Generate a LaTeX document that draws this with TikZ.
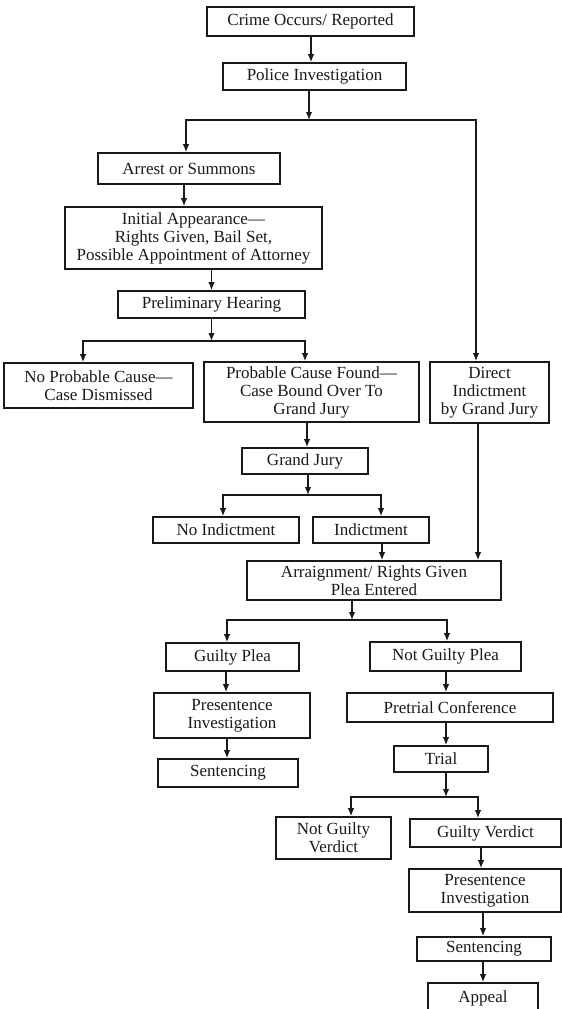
\documentclass[tikz,border=0pt]{standalone}
\usepackage{fontspec}
\setmainfont{Liberation Serif}
\usetikzlibrary{arrows.meta}
\begin{document}
\begin{tikzpicture}[x=1pt,y=-1pt,
  box/.style={draw=black!90, line width=1.6pt, align=center, inner sep=0pt,
    font=\fontsize{17}{18}\selectfont, text=black!90},
  arr/.style={draw=black!90, line width=1.4pt, -{Latex[length=8pt,width=6.5pt]}}]
\useasboundingbox (0,0) rectangle (562,1009);
\node[box, minimum width=207pt, minimum height=29pt] (crime) at (310.5,21.5) {Crime Occurs/ Reported};
\node[box, minimum width=183pt, minimum height=27pt] (police) at (314.5,76.5) {Police Investigation};
\node[box, minimum width=182pt, minimum height=31pt] (arrest) at (189,168.5) {Arrest or Summons};
\node[box, minimum width=257pt, minimum height=62pt] (initial) at (193.5,238) {Initial Appearance---\\Rights Given, Bail Set,\\Possible Appointment of Attorney};
\node[box, minimum width=187pt, minimum height=27pt] (prelim) at (211.5,304.5) {Preliminary Hearing};
\node[box, minimum width=189pt, minimum height=45pt] (noprob) at (98.5,385.5) {No Probable Cause---\\Case Dismissed};
\node[box, minimum width=215pt, minimum height=60pt] (prob) at (311.5,392) {Probable Cause Found---\\Case Bound Over To\\Grand Jury};
\node[box, minimum width=119pt, minimum height=61pt] (direct) at (489.5,392.5) {Direct\\Indictment\\by Grand Jury};
\node[box, minimum width=126pt, minimum height=26pt] (gj) at (305,461) {Grand Jury};
\node[box, minimum width=146pt, minimum height=26pt] (noind) at (226,530) {No Indictment};
\node[box, minimum width=116pt, minimum height=26pt] (ind) at (371,530) {Indictment};
\node[box, minimum width=254pt, minimum height=39pt] (arraign) at (374,580.5) {Arraignment/ Rights Given\\Plea Entered};
\node[box, minimum width=133pt, minimum height=28pt] (gp) at (232.5,657) {Guilty Plea};
\node[box, minimum width=151pt, minimum height=29pt] (ngp) at (445.5,656.5) {Not Guilty Plea};
\node[box, minimum width=156pt, minimum height=45pt] (psia) at (232,715.5) {Presentence\\Investigation};
\node[box, minimum width=140pt, minimum height=28pt] (senta) at (228,773) {Sentencing};
\node[box, minimum width=206pt, minimum height=29pt] (pretrial) at (450,707.5) {Pretrial Conference};
\node[box, minimum width=94pt, minimum height=26pt] (trial) at (441,759) {Trial};
\node[box, minimum width=115pt, minimum height=42pt] (ngv) at (333.5,838) {Not Guilty\\Verdict};
\node[box, minimum width=151pt, minimum height=28pt] (gv) at (485.5,833) {Guilty Verdict};
\node[box, minimum width=152pt, minimum height=43pt] (psib) at (485,890.5) {Presentence\\Investigation};
\node[box, minimum width=134pt, minimum height=24pt] (sentb) at (484,949) {Sentencing};
\node[box, minimum width=110pt, minimum height=30pt] (appeal) at (483,998) {Appeal};

\coordinate (b1) at (309,120);
\coordinate (b2) at (211.5,341);
\coordinate (b3) at (308,495);
\coordinate (b4) at (352,620);
\coordinate (b5) at (446,797);

\draw[arr] ([xshift=.5pt]crime.south) -- ([xshift=.5pt]crime.south |- police.north);
\draw[arr] (police.south -| b1) -- (b1);
\draw[arr] (b1) -| ([xshift=-3pt]arrest.north);
\draw[arr] (b1) -| ([xshift=-13.5pt]direct.north);
\draw[arr] ([xshift=-5pt]arrest.south) -- ([xshift=-5pt]arrest.south |- initial.north);
\draw[arr] (initial.south -| prelim.north) -- (prelim.north);
\draw[arr] (prelim.south) -- (b2);
\draw[arr] (b2) -| ([xshift=-15.5pt]noprob.north);
\draw[arr] (b2) -| ([xshift=-6.5pt]prob.north);
\draw[arr] ([xshift=-4.5pt]prob.south) -- ([xshift=-4.5pt]prob.south |- gj.north);
\draw[arr] (gj.south -| b3) -- (b3);
\draw[arr] (b3) -| ([xshift=-3pt]noind.north);
\draw[arr] (b3) -| ([xshift=10pt]ind.north);
\draw[arr] ([xshift=11pt]ind.south) -- ([xshift=11pt]ind.south |- arraign.north);
\draw[arr] ([xshift=-11.5pt]direct.south) -- ([xshift=-11.5pt]direct.south |- arraign.north);
\draw[arr] (arraign.south -| b4) -- (b4);
\draw[arr] (b4) -| ([xshift=-5.5pt]gp.north);
\draw[arr] (b4) -| ([xshift=1.5pt]ngp.north);
\draw[arr] ([xshift=-6.5pt]gp.south) -- ([xshift=-6.5pt]gp.south |- psia.north);
\draw[arr] ([xshift=-5pt]psia.south) -- ([xshift=-5pt]psia.south |- senta.north);
\draw[arr] ([xshift=.5pt]ngp.south) -- ([xshift=.5pt]ngp.south |- pretrial.north);
\draw[arr] ([xshift=-4pt]pretrial.south) -- ([xshift=-4pt]pretrial.south |- trial.north);
\draw[arr] (trial.south -| b5) -- (b5);
\draw[arr] (b5) -| ([xshift=17.5pt]ngv.north);
\draw[arr] (b5) -| ([xshift=-7.5pt]gv.north);
\draw[arr] ([xshift=-4.5pt]gv.south) -- ([xshift=-4.5pt]gv.south |- psib.north);
\draw[arr] ([xshift=-2pt]psib.south) -- ([xshift=-2pt]psib.south |- sentb.north);
\draw[arr] ([xshift=-1pt]sentb.south) -- ([xshift=-1pt]sentb.south |- appeal.north);
\end{tikzpicture}
\end{document}
